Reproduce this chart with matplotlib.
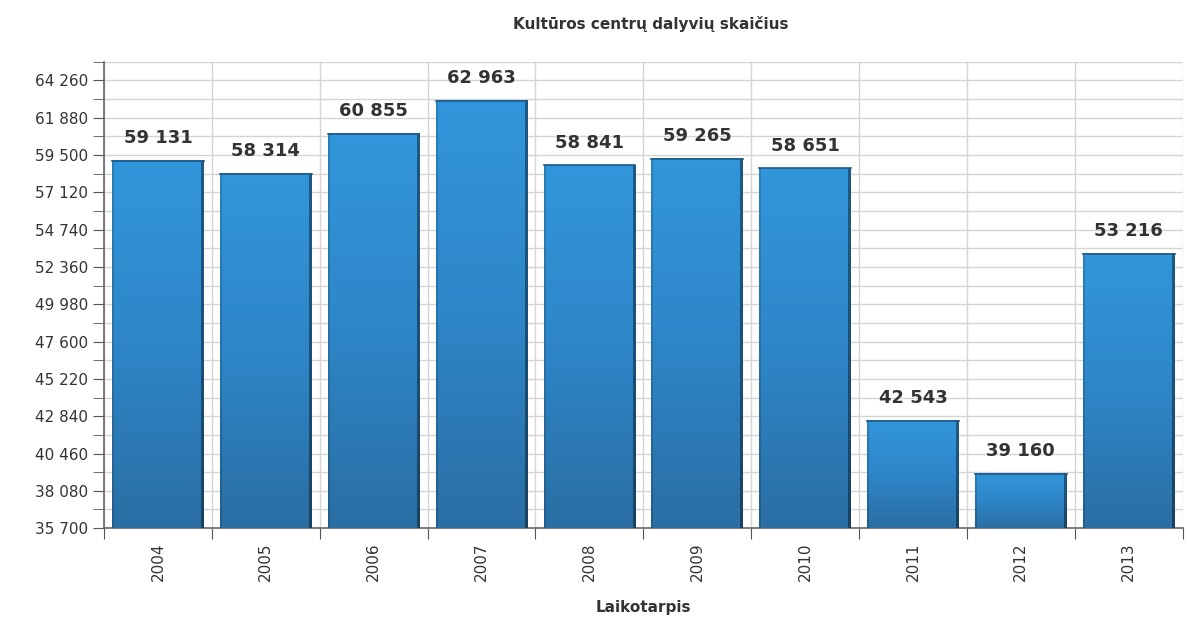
import numpy as np
import matplotlib.pyplot as plt
from matplotlib.colors import LinearSegmentedColormap
from matplotlib.ticker import MultipleLocator, FuncFormatter

# duomenys
metai = ['2004', '2005', '2006', '2007', '2008', '2009', '2010', '2011', '2012', '2013']
dalyviai = [59131, 58314, 60855, 62963, 58841, 59265, 58651, 42543, 39160, 53216]

y_min = 35700
y_max = 65450
y_step = 2380

fig = plt.figure(figsize=(11.88, 6.31), dpi=100)
ax = fig.add_axes([0.0875, 0.163, 0.908, 0.739])

x = np.arange(len(metai))
plotis = 0.85

# gradientas stulpeliams
cmap = LinearSegmentedColormap.from_list('mel', ['#2a6ea3', '#2e86c8', '#3296da'])
grad = np.linspace(0, 1, 256).reshape(-1, 1)
# horizontalus tamsesnis kraštas
kr = np.ones((1, 80))
kr[0, :2] = 0.85
kr[0, -3:] = 0.6

for xi, v in zip(x, dalyviai):
    img = cmap(grad * np.ones((1, 80)))
    img[..., :3] *= kr[..., None]
    ax.imshow(img, extent=[xi - plotis / 2, xi + plotis / 2, y_min, v],
              origin='lower', aspect='auto', zorder=3, interpolation='nearest')
    ax.plot([xi - plotis / 2, xi + plotis / 2], [v, v], color='#1d5a88', lw=1.2, zorder=4)
    ax.annotate(f'{v:,}'.replace(',', ' '), (xi, v), xytext=(0, 10),
                textcoords='offset points', ha='center', va='bottom',
                fontsize=13, fontweight='bold', color='#333333')

ax.set_xlim(-0.5, len(metai) - 0.5)
ax.set_ylim(y_min, y_max)

ax.yaxis.set_minor_locator(MultipleLocator(y_step / 2, offset=y_min))
ax.yaxis.set_major_formatter(FuncFormatter(lambda v, p: f'{int(round(v)):,}'.replace(',', ' ')))
ax.set_yticks([t for t in np.arange(y_min, y_max, y_step)])

ax.set_xticks(np.arange(-0.5, len(metai) - 0.4, 1))
ax.set_xticklabels([])
ax.set_xticks(x, minor=True)
ax.set_xticklabels(metai, minor=True, rotation=90, fontsize=11, color='#333333')
ax.tick_params(axis='x', which='minor', length=0, pad=10)
ax.tick_params(axis='x', which='major', length=8, color='#555555')
ax.tick_params(axis='y', which='both', length=8, color='#555555', labelsize=11,
               labelcolor='#333333')

ax.grid(True, axis='y', which='both', color='#d4d4d4', lw=1, zorder=0)
ax.grid(True, axis='x', which='major', color='#d4d4d4', lw=1, zorder=0)

for s in ['top', 'right']:
    ax.spines[s].set_visible(False)
for s in ['left', 'bottom']:
    ax.spines[s].set_color('#666666')
    ax.spines[s].set_linewidth(1.2)

ax.set_xlabel('Laikotarpis', fontsize=11, fontweight='bold', labelpad=14, color='#333333')
fig.suptitle('Kultūros centrų dalyvių skaičius', fontsize=11, fontweight='bold',
             x=0.548, y=0.975, color='#333333')

fig.savefig('out.png', dpi=100)
